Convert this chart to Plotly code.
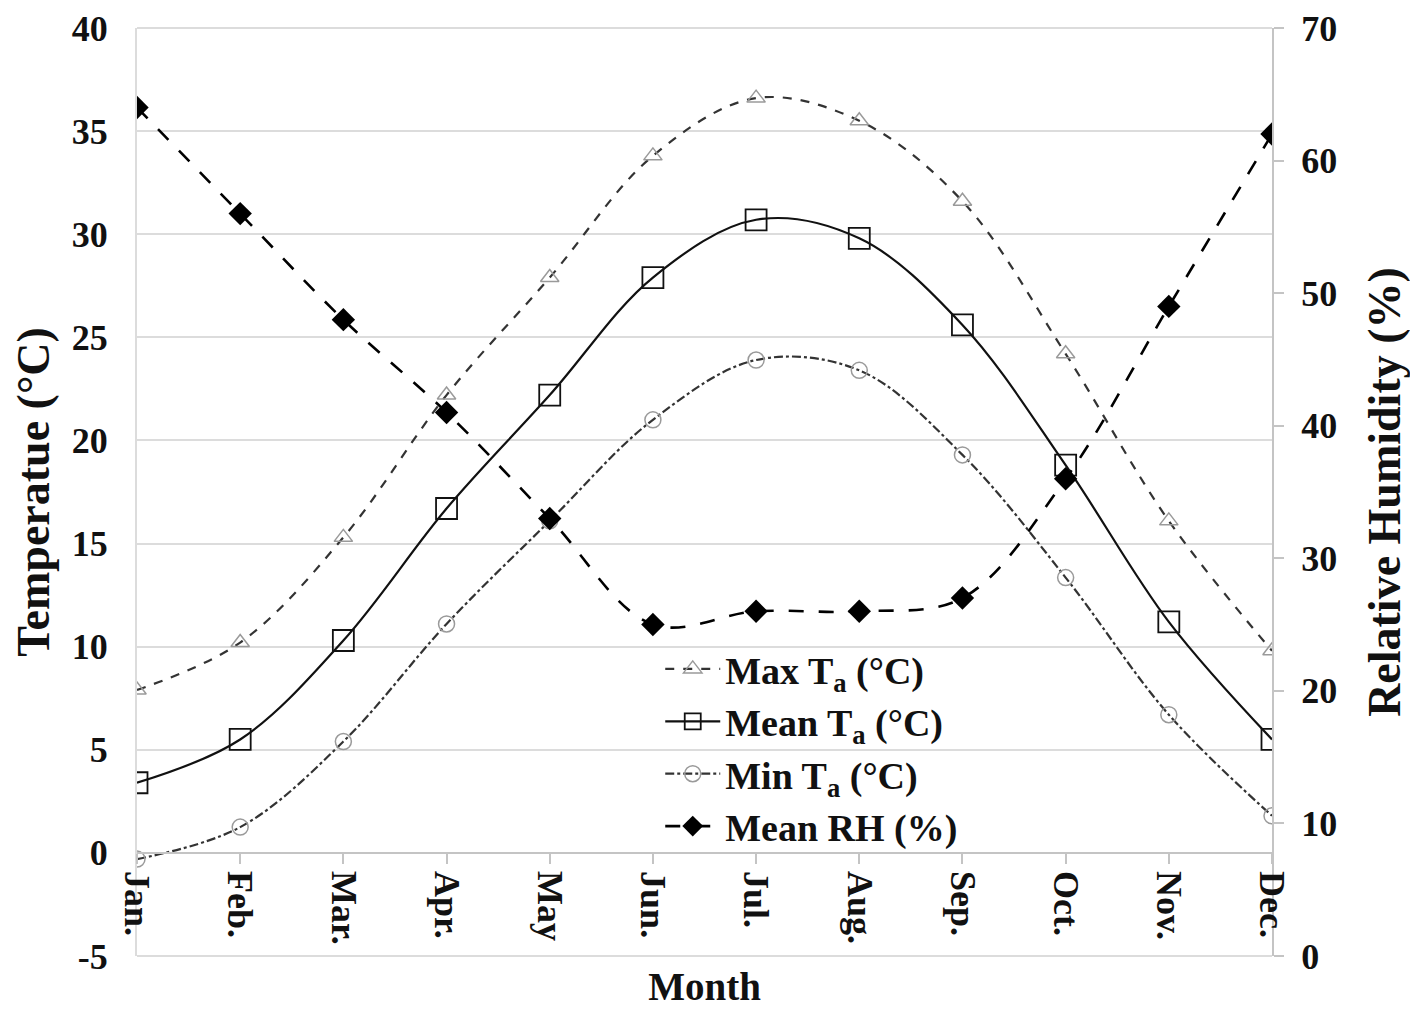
import plotly.graph_objects as go

# monthly climate values
months = ["Jan.", "Feb.", "Mar.", "Apr.", "May", "Jun.", "Jul.", "Aug.", "Sep.", "Oct.", "Nov.", "Dec."]
max_ta = [7.9, 10.2, 15.3, 22.2, 27.9, 33.8, 36.6, 35.5, 31.6, 24.2, 16.1, 9.8]
mean_ta = [3.4, 5.5, 10.3, 16.7, 22.2, 27.9, 30.7, 29.8, 25.6, 18.8, 11.2, 5.5]
min_ta = [-0.3, 1.25, 5.4, 11.1, 16.1, 21.0, 23.9, 23.4, 19.3, 13.35, 6.7, 1.8]
mean_rh = [64, 56, 48, 41, 33, 25, 26, 26, 27, 36, 49, 62]

# axis ticks (plain hyphen for the negative label, as in the original)
temp_ticks = [-5, 0, 5, 10, 15, 20, 25, 30, 35, 40]
temp_labels = ["-5", "0", "5", "10", "15", "20", "25", "30", "35", "40"]
rh_ticks = [0, 10, 20, 30, 40, 50, 60, 70]

FONT = "Liberation Serif"
GRID = "#dcdcdc"
AXIS = "#c4c4c4"

fig = go.Figure()

fig.add_trace(go.Scatter(
    x=months, y=max_ta, name="Max T<sub>a</sub> (°C)",
    mode="lines+markers", line=dict(color="#333333", width=2.2, dash="dash", shape="spline"),
    marker=dict(symbol="triangle-up-open", size=16, color="#9a9a9a", line=dict(width=1.5)),
))
fig.add_trace(go.Scatter(
    x=months, y=mean_ta, name="Mean T<sub>a</sub> (°C)",
    mode="lines+markers", line=dict(color="#111111", width=2.2, shape="spline"),
    marker=dict(symbol="square-open", size=21, color="#111111", line=dict(width=1.8)),
))
fig.add_trace(go.Scatter(
    x=months, y=min_ta, name="Min T<sub>a</sub> (°C)",
    mode="lines+markers", line=dict(color="#333333", width=2.2, dash="dashdot", shape="spline"),
    marker=dict(symbol="circle-open", size=16, color="#9a9a9a", line=dict(width=1.5)),
))
fig.add_trace(go.Scatter(
    x=months, y=mean_rh, name="Mean RH (%)", yaxis="y2",
    mode="lines+markers", line=dict(color="#000000", width=2.6, dash="longdash", shape="spline"),
    marker=dict(symbol="diamond", size=18, color="#000000"),
))

# top and bottom border of the plot area
for edge in (0, 1):
    fig.add_shape(type="line", xref="paper", yref="paper", x0=0, x1=1, y0=edge, y1=edge,
                  line=dict(color=GRID, width=2), layer="below")

fig.update_layout(
    width=1410, height=1007,
    margin=dict(l=129, r=146, t=20, b=59),
    paper_bgcolor="white", plot_bgcolor="white",
    font=dict(family=FONT, size=34, color="#111111", weight="bold"),
    showlegend=True,
    legend=dict(
        x=0.461, y=0.343, xanchor="left", yanchor="top",
        bgcolor="rgba(0,0,0,0)", font=dict(size=38), itemwidth=55,
    ),
    # month axis sits on the 0 °C line
    xaxis=dict(
        anchor="free", position=5 / 45, automargin=False,
        type="category", categoryorder="array", categoryarray=months, range=[0, 11],
        showline=True, linecolor=AXIS, linewidth=2,
        ticks="outside", ticklen=10, tickcolor=AXIS, tickwidth=2,
        tickangle=90, tickfont=dict(size=36),
        showgrid=False, zeroline=False,
        title=dict(text="Month", font=dict(size=39), standoff=28),
    ),
    yaxis=dict(
        range=[-5, 40], tickvals=temp_ticks, ticktext=temp_labels, automargin=False,
        showgrid=True, gridcolor=GRID, gridwidth=2, zeroline=False,
        showline=True, linecolor=GRID, linewidth=2, ticks="",
        tickfont=dict(size=36), ticklabelstandoff=20, ticklabeloverflow="allow",
        title=dict(text="Temperatue (°C)", font=dict(size=46), standoff=14),
    ),
    yaxis2=dict(
        overlaying="y", side="right", anchor="x", automargin=False,
        range=[0, 70], tickvals=rh_ticks,
        showgrid=False, zeroline=False,
        showline=True, linecolor=AXIS, linewidth=2,
        ticks="outside", ticklen=10, tickcolor=AXIS, tickwidth=2,
        tickfont=dict(size=36), ticklabelstandoff=10, ticklabeloverflow="allow",
        title=dict(text="Relative Humidity (%)", font=dict(size=46), standoff=32),
    ),
)

fig.write_html("out.html")
